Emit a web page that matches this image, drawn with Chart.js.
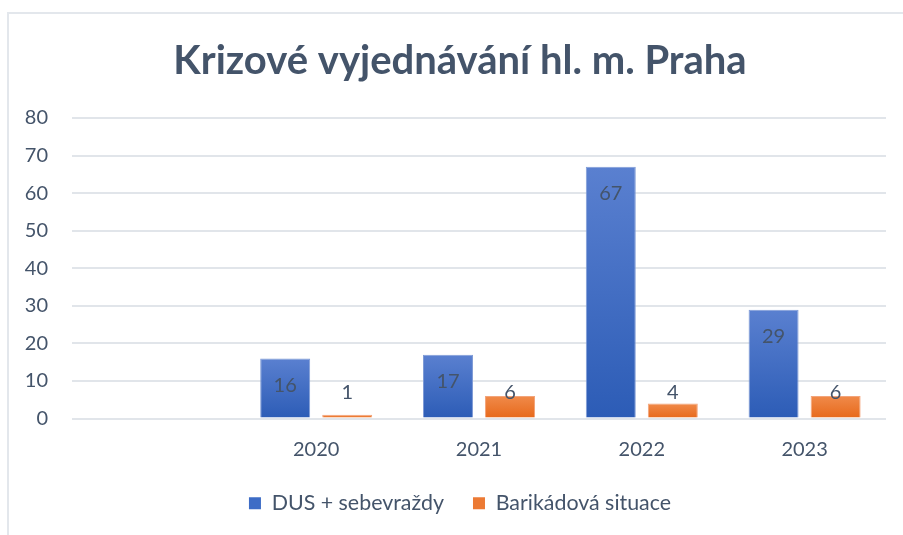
<!DOCTYPE html>
<html lang="cs">

<head>
    <meta charset="UTF-8">
    <title>Krizové vyjednávání hl. m. Praha</title>
    <script src="https://cdn.jsdelivr.net/npm/chart.js@4"></script>
    <style>
        html, body {
            margin: 0;
            padding: 0;
            background: #ffffff;
            overflow: hidden;
        }

        .frame {
            position: absolute;
            left: 7px;
            top: 12px;
            width: 920px;
            height: 540px;
            border: 2px solid #e3e7ec;
        }

        #chart {
            position: absolute;
            left: 0;
            top: 0;
        }
    </style>
</head>

<body>
    <div class="frame"></div>
    <!-- a bit wider than the window: the chart box runs past the right edge like the original -->
    <canvas id="chart" width="920" height="535"></canvas>

    <script>
        // data
        const years = ['', '2020', '2021', '2022', '2023'];
        const dus = [null, 16, 17, 67, 29];
        const barikady = [null, 1, 6, 4, 6];
        const yTicks = [0, 10, 20, 30, 40, 50, 60, 70, 80];

        const textColor = '#44546a';
        const fontName = "Lato, 'Noto Sans', sans-serif";

        // gradient per bar, lighter at the top
        function barGradient(top, bottom) {
            return function (ctx) {
                const chart = ctx.chart;
                const y = chart.scales.y;
                if (!chart.chartArea || !y || ctx.raw == null) return bottom;
                const y0 = y.getPixelForValue(ctx.raw);
                const y1 = y.getPixelForValue(0);
                if (!isFinite(y0) || y1 - y0 < 1) return bottom;
                const g = chart.ctx.createLinearGradient(0, y0, 0, y1);
                g.addColorStop(0, top);
                g.addColorStop(1, bottom);
                return g;
            };
        }

        // value labels: inside end, pushed above the base for short bars
        const valueLabels = {
            id: 'valueLabels',
            afterDatasetsDraw(chart) {
                const ctx = chart.ctx;
                ctx.save();
                ctx.font = '20px ' + fontName;
                ctx.fillStyle = textColor;
                ctx.textAlign = 'center';
                ctx.textBaseline = 'middle';
                chart.data.datasets.forEach((ds, i) => {
                    chart.getDatasetMeta(i).data.forEach((bar, j) => {
                        const v = ds.data[j];
                        if (v == null) return;
                        const y = Math.min(bar.y + 27, bar.base - 25);
                        ctx.fillText(String(v), bar.x, y);
                    });
                });
                ctx.restore();
            }
        };

        new Chart(document.getElementById('chart'), {
            type: 'bar',
            data: {
                labels: years,
                datasets: [{
                    label: 'DUS + sebevraždy',
                    data: dus,
                    backgroundColor: barGradient('#5a80d0', '#2c5cb6'),
                    borderColor: '#7f9bd6',
                    borderWidth: 1,
                    categoryPercentage: 0.762,
                    barPercentage: 0.806
                }, {
                    label: 'Barikádová situace',
                    data: barikady,
                    backgroundColor: barGradient('#f08a4a', '#e7681a'),
                    borderColor: '#f3a47a',
                    borderWidth: 1,
                    categoryPercentage: 0.762,
                    barPercentage: 0.806
                }]
            },
            options: {
                responsive: false,
                animation: false,
                layout: {
                    padding: { left: 0, right: 0, top: 0, bottom: 11 }
                },
                plugins: {
                    title: {
                        display: true,
                        text: 'Krizové vyjednávání hl. m. Praha',
                        color: textColor,
                        font: { family: fontName, size: 40, weight: 'bold' },
                        padding: { top: 37, bottom: 33 }
                    },
                    legend: {
                        position: 'bottom',
                        maxHeight: 80,
                        labels: {
                            color: textColor,
                            font: { family: fontName, size: 21.4 },
                            boxWidth: 12,
                            boxHeight: 12,
                            padding: 29,
                            generateLabels(chart) {
                                const cols = ['#3d6cc6', '#ec7a34'];
                                return chart.data.datasets.map((ds, i) => ({
                                    text: ds.label,
                                    fillStyle: cols[i],
                                    strokeStyle: cols[i],
                                    lineWidth: 0,
                                    fontColor: textColor,
                                    datasetIndex: i
                                }));
                            }
                        }
                    },
                    tooltip: { enabled: false }
                },
                scales: {
                    x: {
                        grid: { display: false, drawTicks: false },
                        border: { display: false },
                        ticks: {
                            color: textColor,
                            font: { family: fontName, size: 20 },
                            padding: 19
                        },
                        afterFit(scale) { scale.height = 45; }
                    },
                    y: {
                        min: 0,
                        max: 80,
                        afterBuildTicks(scale) {
                            scale.ticks = yTicks.map(v => ({ value: v }));
                        },
                        grid: { color: '#e1e5ea', lineWidth: 2, drawTicks: false },
                        border: { display: false },
                        ticks: {
                            color: textColor,
                            font: { family: fontName, size: 20 },
                            padding: 24
                        },
                        afterFit(scale) { scale.width = 72; }
                    },
                    // empty strip on the right so the plot stops short of the frame
                    yRight: {
                        position: 'right',
                        min: 0,
                        max: 80,
                        grid: { display: false, drawTicks: false },
                        border: { display: false },
                        ticks: { display: false },
                        afterFit(scale) { scale.width = 34; }
                    }
                }
            },
            plugins: [valueLabels]
        });
    </script>
</body>

</html>
